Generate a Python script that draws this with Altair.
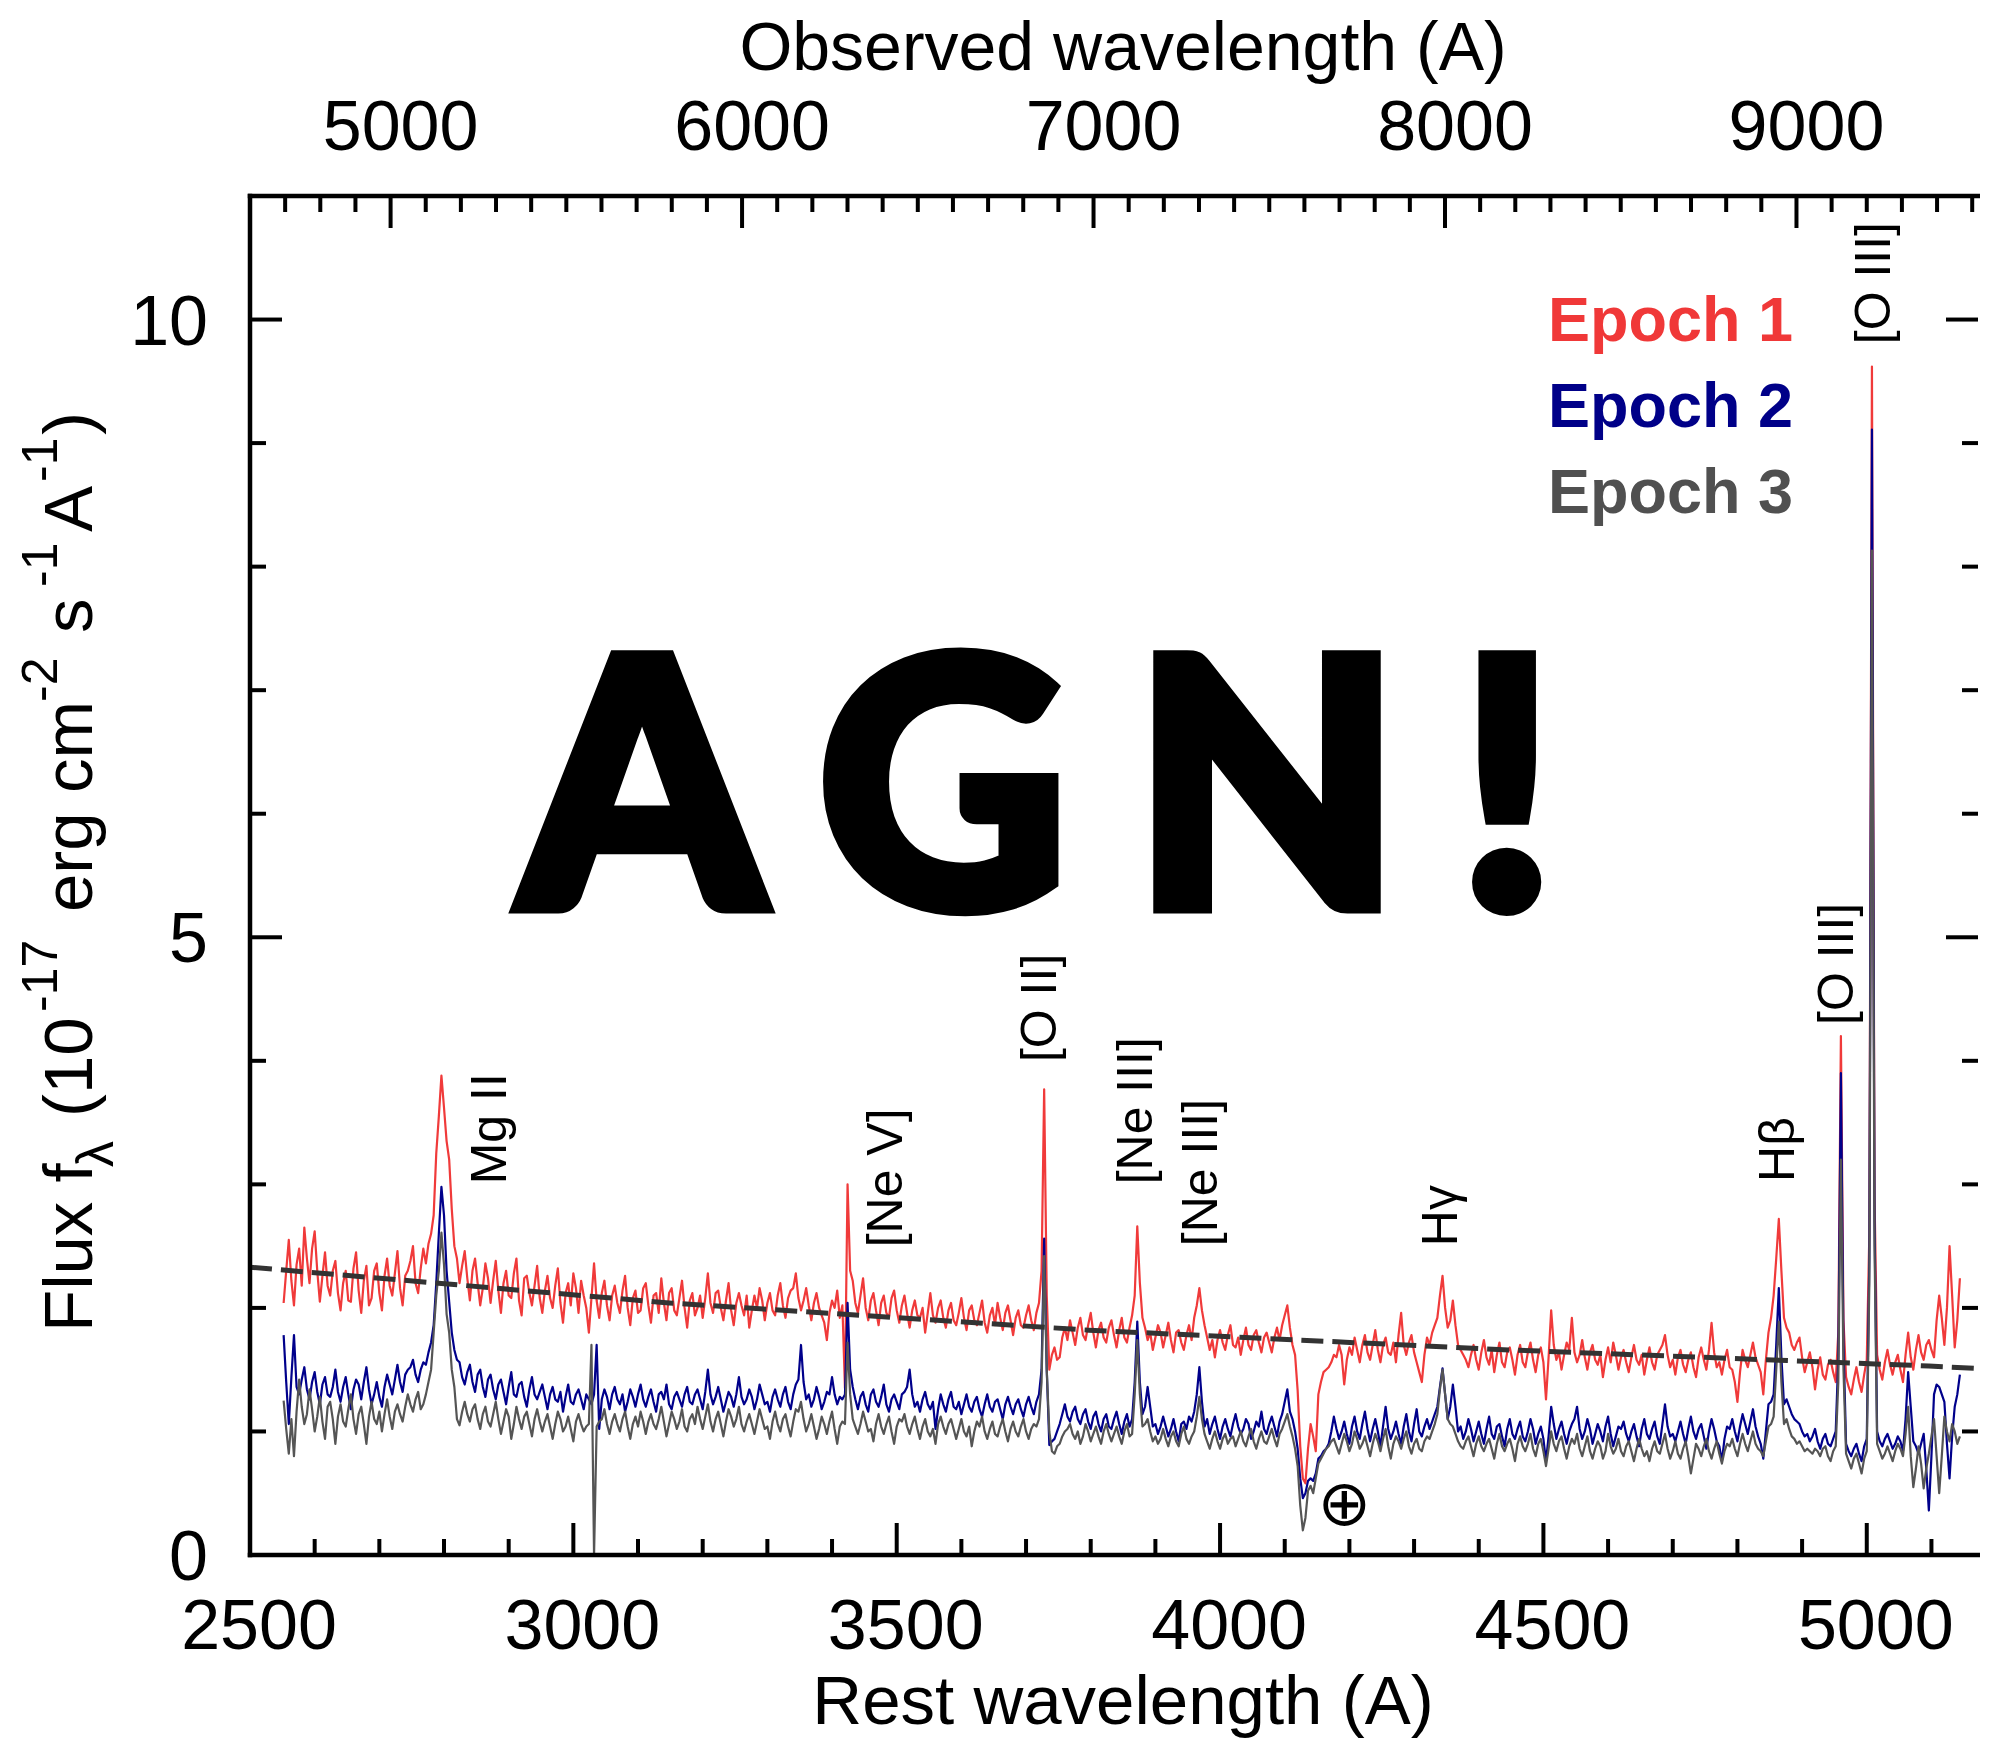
import altair as alt
import pandas as pd

# ---------------- data ----------------
ONE_PLUS_Z = 1.84          # observed / rest wavelength
X_MIN, X_MAX = 2500, 5172  # rest wavelength range shown
Y_MIN, Y_MAX = 0, 11
W, H = 1728, 1359

wave = list(range(2552, 5145, 4))  # rest wavelength sampling (A)

epoch1 = [
    2.04, 2.30, 2.55, 2.22, 2.02, 2.35, 2.48, 2.18, 2.65, 2.40, 2.20, 2.48, 2.62, 2.30, 2.05, 2.26, 2.45, 2.18, 2.10, 2.30,
    2.38, 2.12, 1.98, 2.20, 2.30, 2.06, 2.05, 2.32, 2.45, 2.14, 1.96, 2.22, 2.34, 2.02, 2.08, 2.30, 2.36, 2.12, 1.98, 2.26,
    2.40, 2.18, 2.10, 2.28, 2.46, 2.16, 2.02, 2.26, 2.30, 2.38, 2.50, 2.20, 2.12, 2.32, 2.48, 2.36, 2.52, 2.60, 2.75, 3.25,
    3.55, 3.88, 3.62, 3.35, 3.20, 2.80, 2.50, 2.40, 2.20, 2.34, 2.46, 2.24, 2.06, 2.30, 2.40, 2.20, 2.02, 2.16, 2.36, 2.24,
    2.04, 2.22, 2.38, 2.14, 1.96, 2.20, 2.30, 2.10, 2.08, 2.28, 2.40, 2.06, 1.94, 2.24, 2.26, 2.12, 2.02, 2.18, 2.34, 2.08,
    1.96, 2.14, 2.26, 2.08, 2.00, 2.18, 2.32, 2.04, 1.88, 2.12, 2.20, 2.02, 2.28, 2.16, 1.96, 2.22, 2.10, 2.00, 1.80, 2.08,
    2.36, 2.06, 1.92, 2.12, 2.22, 2.02, 1.90, 2.10, 2.18, 2.04, 1.96, 2.14, 2.26, 2.00, 1.86, 2.08, 2.14, 1.96, 1.98, 2.16,
    2.20, 2.02, 1.88, 2.10, 2.12, 1.96, 2.24, 2.04, 1.90, 2.12, 2.16, 1.98, 1.94, 2.08, 2.22, 2.00, 1.84, 2.06, 2.12, 1.94,
    2.00, 2.10, 1.92, 2.08, 2.28, 2.04, 1.96, 2.12, 2.14, 2.00, 1.90, 2.06, 2.20, 1.98, 1.86, 2.04, 2.12, 2.02, 1.94, 2.10,
    1.84, 1.98, 2.10, 2.00, 2.16, 2.06, 1.90, 2.04, 2.12, 1.98, 1.94, 2.10, 2.20, 2.02, 1.92, 2.08, 2.14, 2.16, 2.28, 2.08,
    1.98, 2.06, 2.16, 2.02, 1.90, 2.04, 2.12, 2.00, 1.94, 1.88, 1.74, 1.96, 2.06, 2.00, 2.14, 1.92, 2.02, 1.35, 3.00, 2.30,
    2.22, 2.04, 1.96, 2.10, 2.24, 2.00, 1.90, 2.06, 2.12, 1.98, 1.86, 2.04, 2.10, 1.96, 1.92, 2.08, 2.14, 1.98, 1.88, 2.02,
    2.10, 1.96, 1.84, 1.98, 2.06, 1.94, 1.92, 2.00, 1.80, 1.96, 2.12, 1.94, 1.88, 2.00, 2.06, 1.92, 1.84, 1.98, 2.04, 1.90,
    1.86, 1.96, 2.08, 1.92, 1.82, 1.98, 2.02, 1.90, 1.86, 1.96, 2.06, 1.88, 1.80, 1.94, 2.00, 1.86, 2.04, 1.92, 1.82, 1.96,
    2.02, 1.90, 1.78, 1.92, 1.98, 1.86, 1.84, 1.94, 2.02, 1.90, 1.82, 1.96, 2.04, 2.30, 3.77, 2.10, 1.50, 1.62, 1.68, 1.58,
    1.60, 1.76, 1.84, 1.74, 1.90, 1.80, 1.70, 1.84, 1.92, 1.78, 1.74, 1.86, 1.96, 1.80, 1.68, 1.82, 1.88, 1.76, 1.72, 1.84,
    1.90, 1.78, 1.68, 1.82, 1.92, 1.76, 1.72, 1.84, 1.94, 2.10, 2.66, 2.20, 1.92, 1.84, 1.74, 1.80, 1.66, 1.76, 1.86, 1.80,
    1.68, 1.78, 1.88, 1.74, 1.64, 1.80, 1.82, 1.72, 1.66, 1.78, 1.86, 1.74, 1.92, 2.02, 2.16, 1.98, 1.86, 1.76, 1.66, 1.74,
    1.60, 1.74, 1.82, 1.72, 1.66, 1.78, 1.86, 1.70, 1.68, 1.76, 1.62, 1.74, 1.84, 1.70, 1.66, 1.78, 1.82, 1.72, 1.64, 1.76,
    1.80, 1.72, 1.64, 1.76, 1.84, 1.74, 1.86, 1.94, 2.02, 1.84, 1.70, 1.62, 1.33, 0.88, 0.62, 0.58, 0.86, 1.06, 0.96, 0.84,
    1.30, 1.40, 1.48, 1.50, 1.52, 1.56, 1.62, 1.60, 1.70, 1.62, 1.38, 1.58, 1.68, 1.62, 1.76, 1.66, 1.56, 1.70, 1.78, 1.64,
    1.58, 1.70, 1.82, 1.66, 1.56, 1.70, 1.76, 1.64, 1.62, 1.72, 1.56, 1.78, 1.96, 1.70, 1.62, 1.72, 1.78, 1.64, 1.56, 1.48,
    1.40, 1.62, 1.76, 1.70, 1.80, 1.86, 1.92, 2.10, 2.26, 2.00, 1.84, 1.90, 2.06, 1.86, 1.70, 1.66, 1.62, 1.58, 1.52, 1.62,
    1.70, 1.58, 1.50, 1.64, 1.74, 1.60, 1.54, 1.66, 1.48, 1.62, 1.72, 1.56, 1.52, 1.64, 1.68, 1.58, 1.46, 1.62, 1.70, 1.56,
    1.52, 1.64, 1.72, 1.58, 1.48, 1.62, 1.68, 1.56, 1.26, 1.60, 1.98, 1.70, 1.58, 1.64, 1.50, 1.62, 1.72, 1.66, 1.92, 1.64,
    1.56, 1.62, 1.74, 1.60, 1.50, 1.64, 1.70, 1.58, 1.54, 1.62, 1.44, 1.58, 1.68, 1.56, 1.72, 1.62, 1.50, 1.60, 1.66, 1.56,
    1.48, 1.60, 1.70, 1.58, 1.54, 1.62, 1.46, 1.58, 1.68, 1.56, 1.50, 1.62, 1.66, 1.70, 1.78, 1.62, 1.52, 1.58, 1.46, 1.60,
    1.66, 1.54, 1.48, 1.58, 1.64, 1.52, 1.44, 1.60, 1.68, 1.58, 1.50, 1.66, 1.88, 1.64, 1.52, 1.56, 1.46, 1.58, 1.66, 1.52,
    1.50, 1.40, 1.24, 1.48, 1.66, 1.58, 1.52, 1.62, 1.72, 1.60, 1.54, 1.48, 1.30, 1.58, 1.80, 1.92, 2.10, 2.40, 2.72, 2.30,
    1.92, 1.84, 1.80, 1.70, 1.66, 1.72, 1.76, 1.60, 1.48, 1.56, 1.64, 1.52, 1.34, 1.50, 1.60, 1.46, 1.42, 1.54, 1.58, 1.48,
    1.40, 1.80, 4.20, 1.90, 1.44, 1.36, 1.30, 1.42, 1.52, 1.40, 1.32, 1.46, 1.58, 2.60, 9.62, 2.90, 1.62, 1.50, 1.42, 1.56,
    1.66, 1.54, 1.46, 1.56, 1.62, 1.50, 1.40, 1.62, 1.80, 1.60, 1.50, 1.66, 1.78, 1.64, 1.58, 1.70, 1.74, 1.66, 1.60, 1.90,
    2.10, 1.92, 1.70, 2.00, 2.50, 2.10, 1.68, 1.90, 2.24,
]

epoch2 = [
    1.78, 1.40, 1.06, 1.44, 1.78, 1.36, 1.30, 1.42, 1.52, 1.34, 1.26, 1.40, 1.48, 1.32, 1.22, 1.38, 1.44, 1.30, 1.28, 1.36,
    1.50, 1.32, 1.24, 1.36, 1.44, 1.30, 1.18, 1.34, 1.42, 1.38, 1.26, 1.40, 1.52, 1.34, 1.22, 1.30, 1.40, 1.28, 1.20, 1.36,
    1.46, 1.38, 1.30, 1.42, 1.54, 1.40, 1.32, 1.46, 1.50, 1.52, 1.58, 1.46, 1.40, 1.50, 1.56, 1.54, 1.64, 1.72, 1.86, 2.20,
    2.60, 2.98, 2.75, 2.30, 2.05, 1.80, 1.66, 1.58, 1.56, 1.44, 1.38, 1.48, 1.54, 1.40, 1.32, 1.46, 1.50, 1.36, 1.28, 1.42,
    1.46, 1.34, 1.26, 1.38, 1.42, 1.32, 1.22, 1.36, 1.48, 1.30, 1.28, 1.38, 1.40, 1.28, 1.20, 1.34, 1.44, 1.30, 1.26, 1.32,
    1.38, 1.28, 1.18, 1.30, 1.36, 1.26, 1.24, 1.32, 1.16, 1.28, 1.38, 1.24, 1.22, 1.30, 1.34, 1.26, 1.18, 1.30, 1.26, 1.22,
    1.30, 1.70, 1.02, 1.26, 1.34, 1.28, 1.18, 1.30, 1.36, 1.26, 1.22, 1.30, 1.16, 1.24, 1.34, 1.28, 1.20, 1.30, 1.38, 1.26,
    1.20, 1.28, 1.34, 1.24, 1.16, 1.30, 1.32, 1.26, 1.38, 1.22, 1.18, 1.28, 1.32, 1.26, 1.20, 1.30, 1.36, 1.24, 1.22, 1.30,
    1.34, 1.26, 1.18, 1.32, 1.50, 1.30, 1.22, 1.28, 1.36, 1.26, 1.16, 1.24, 1.32, 1.28, 1.20, 1.30, 1.44, 1.28, 1.22, 1.26,
    1.34, 1.28, 1.18, 1.26, 1.38, 1.30, 1.22, 1.24, 1.16, 1.28, 1.34, 1.26, 1.20, 1.30, 1.36, 1.24, 1.18, 1.30, 1.38, 1.42,
    1.70, 1.40, 1.26, 1.30, 1.20, 1.26, 1.36, 1.28, 1.18, 1.24, 1.32, 1.30, 1.44, 1.30, 1.22, 1.28, 1.26, 1.30, 2.04, 1.50,
    1.36, 1.26, 1.18, 1.28, 1.32, 1.22, 1.16, 1.30, 1.34, 1.24, 1.20, 1.28, 1.38, 1.22, 1.16, 1.26, 1.30, 1.24, 1.18, 1.30,
    1.32, 1.36, 1.50, 1.30, 1.20, 1.24, 1.16, 1.26, 1.32, 1.22, 1.18, 1.24, 1.02, 1.18, 1.30, 1.22, 1.16, 1.26, 1.32, 1.20,
    1.18, 1.24, 1.14, 1.22, 1.30, 1.20, 1.16, 1.24, 1.28, 1.18, 1.12, 1.22, 1.30, 1.20, 1.16, 1.24, 1.26, 1.18, 1.10, 1.22,
    1.28, 1.20, 1.14, 1.22, 1.26, 1.18, 1.12, 1.22, 1.28, 1.20, 1.14, 1.24, 1.30, 1.50, 2.56, 1.50, 0.89, 0.92, 0.94, 1.00,
    1.06, 1.14, 1.22, 1.12, 1.08, 1.16, 1.20, 1.10, 1.06, 1.14, 1.18, 1.08, 1.02, 1.12, 1.16, 1.06, 1.00, 1.10, 1.14, 1.04,
    1.02, 1.10, 1.16, 1.06, 0.98, 1.08, 1.14, 1.04, 1.10, 1.40, 1.89, 1.40, 1.14, 1.20, 1.36, 1.20, 1.04, 1.06, 0.98, 1.04,
    1.12, 1.04, 0.96, 1.02, 1.10, 1.00, 0.92, 1.06, 1.08, 1.02, 1.12, 1.08, 1.16, 1.30, 1.52, 1.24, 1.04, 1.10, 0.98, 1.06,
    1.12, 1.02, 0.94, 1.04, 1.10, 1.02, 0.96, 1.06, 1.14, 1.04, 0.98, 1.02, 1.10, 1.06, 0.94, 1.00, 1.08, 1.04, 1.16, 1.02,
    0.98, 1.06, 1.12, 1.04, 0.96, 1.08, 1.14, 1.24, 1.34, 1.16, 1.10, 1.00, 0.86, 0.62, 0.46, 0.50, 0.60, 0.62, 0.60, 0.66,
    0.78, 0.80, 0.84, 0.86, 0.90, 1.00, 1.12, 1.02, 0.94, 1.00, 1.08, 0.98, 0.90, 1.04, 1.12, 1.00, 0.94, 1.06, 1.16, 1.02,
    0.92, 1.02, 1.10, 1.00, 0.88, 1.04, 1.20, 1.02, 0.94, 1.00, 1.08, 0.98, 0.90, 1.04, 1.14, 1.00, 0.92, 1.06, 1.18, 1.00,
    0.96, 1.04, 1.10, 1.02, 1.08, 1.14, 1.20, 1.36, 1.51, 1.30, 1.10, 1.20, 1.38, 1.20, 1.00, 1.04, 0.94, 1.00, 1.10, 1.02,
    0.92, 1.00, 1.08, 0.98, 0.90, 1.02, 1.12, 0.98, 0.94, 1.04, 1.06, 0.96, 0.88, 1.02, 1.10, 0.98, 0.94, 1.02, 1.08, 0.96,
    0.92, 1.00, 1.10, 1.02, 0.90, 0.98, 1.04, 0.94, 0.76, 0.96, 1.20, 1.06, 0.94, 1.02, 1.08, 0.98, 0.90, 1.00, 1.06, 1.10,
    1.20, 1.02, 0.94, 1.00, 1.10, 1.02, 0.90, 0.98, 1.06, 1.00, 0.92, 1.04, 1.12, 0.98, 0.88, 0.96, 1.04, 1.02, 1.08, 0.98,
    0.92, 1.00, 1.06, 0.96, 0.88, 1.02, 1.10, 0.98, 0.94, 1.02, 1.08, 0.96, 0.90, 1.06, 1.22, 1.04, 0.96, 0.98, 0.92, 1.00,
    1.08, 0.98, 0.90, 1.02, 1.12, 1.00, 0.94, 1.02, 1.06, 0.96, 0.86, 1.00, 1.10, 1.02, 0.92, 0.88, 0.76, 0.94, 1.04, 1.02,
    1.10, 1.00, 0.92, 1.04, 1.14, 1.06, 0.98, 1.08, 1.18, 1.04, 0.96, 0.90, 0.78, 1.00, 1.22, 1.24, 1.30, 1.70, 2.16, 1.60,
    1.22, 1.26, 1.20, 1.14, 1.10, 1.08, 1.06, 1.00, 0.96, 0.98, 0.92, 0.96, 1.02, 0.92, 0.86, 0.94, 0.98, 0.90, 0.88, 0.94,
    1.00, 1.60, 3.90, 1.70, 0.90, 0.84, 0.80, 0.86, 0.90, 0.82, 0.76, 0.88, 0.94, 2.40, 9.11, 2.70, 1.00, 0.92, 0.88, 0.94,
    0.98, 0.92, 0.86, 0.90, 0.96, 0.92, 0.84, 1.10, 1.48, 1.20, 0.92, 0.88, 0.82, 0.90, 0.98, 0.70, 0.36, 0.80, 1.30, 1.38,
    1.36, 1.30, 1.24, 0.90, 0.62, 0.96, 1.20, 1.30, 1.46,
]

epoch3 = [
    1.25, 1.02, 0.82, 1.10, 0.80, 1.16, 1.42, 1.20, 1.06, 1.14, 1.34, 1.18, 1.00, 1.12, 1.28, 1.08, 0.94, 1.20, 1.24, 1.10,
    0.90, 1.12, 1.22, 1.08, 1.04, 1.18, 1.30, 1.10, 0.98, 1.14, 1.20, 1.06, 0.90, 1.12, 1.24, 1.10, 1.06, 1.16, 1.00, 1.14,
    1.26, 1.12, 1.02, 1.16, 1.22, 1.14, 1.08, 1.20, 1.30, 1.22, 1.16, 1.26, 1.32, 1.18, 1.22, 1.30, 1.40, 1.50, 1.80, 2.10,
    2.30, 2.61, 2.35, 1.95, 1.80, 1.50, 1.36, 1.10, 1.05, 1.16, 1.24, 1.14, 1.08, 1.18, 1.22, 1.10, 1.02, 1.14, 1.20, 1.08,
    1.04, 1.14, 1.24, 1.10, 0.98, 1.08, 1.18, 1.12, 0.94, 1.06, 1.20, 1.10, 1.02, 1.12, 1.16, 1.06, 0.96, 1.10, 1.18, 1.08,
    1.00, 1.08, 1.14, 1.04, 0.94, 1.06, 1.16, 1.10, 1.00, 1.04, 1.12, 1.02, 0.92, 1.08, 1.14, 1.06, 1.00, 1.04, 1.06, 1.70,
    0.00, 1.04, 1.08, 1.10, 1.18, 1.06, 0.98, 1.08, 1.14, 1.06, 1.00, 1.10, 1.16, 1.04, 0.94, 1.06, 1.12, 1.04, 1.16, 1.08,
    0.98, 1.08, 1.14, 1.06, 1.02, 1.10, 1.20, 1.08, 0.96, 1.06, 1.16, 1.10, 1.02, 1.08, 1.18, 1.04, 1.00, 1.10, 1.14, 1.06,
    1.20, 1.10, 1.02, 1.12, 1.22, 1.08, 1.00, 1.10, 1.16, 1.06, 0.96, 1.08, 1.18, 1.12, 1.04, 1.10, 1.20, 1.06, 1.00, 1.08,
    1.14, 1.06, 0.98, 1.08, 1.18, 1.10, 1.02, 1.04, 0.94, 1.08, 1.16, 1.06, 1.00, 1.10, 1.14, 1.04, 0.96, 1.08, 1.18, 1.16,
    1.24, 1.10, 1.00, 1.06, 1.14, 1.04, 0.94, 1.02, 1.12, 1.06, 0.98, 1.08, 1.16, 1.02, 0.90, 1.04, 1.08, 1.06, 1.72, 1.30,
    1.10, 1.04, 0.98, 1.06, 1.16, 1.08, 1.00, 1.02, 0.92, 1.06, 1.14, 1.04, 0.98, 1.06, 1.12, 1.00, 0.90, 1.04, 1.10, 1.08,
    1.14, 1.04, 0.98, 1.06, 1.12, 1.02, 0.94, 1.04, 1.10, 1.00, 0.96, 1.02, 0.90, 1.06, 1.12, 1.04, 0.98, 1.06, 1.10, 1.02,
    0.94, 1.02, 1.10, 1.00, 0.96, 1.04, 0.88, 1.00, 1.08, 1.04, 1.12, 1.00, 0.94, 1.02, 1.08, 0.98, 0.96, 1.04, 1.10, 1.00,
    0.92, 1.02, 1.08, 1.00, 0.96, 1.04, 1.10, 1.00, 0.94, 1.02, 1.06, 1.04, 1.10, 1.40, 2.42, 1.50, 1.00, 0.84, 0.82, 0.88,
    0.90, 0.96, 1.00, 1.02, 1.06, 0.98, 0.94, 1.00, 0.90, 0.96, 1.06, 1.00, 0.92, 0.98, 1.04, 0.96, 0.90, 1.00, 1.06, 0.98,
    0.92, 0.98, 1.04, 0.96, 0.90, 1.00, 1.06, 0.96, 0.98, 1.30, 1.74, 1.30, 1.04, 1.06, 1.10, 1.00, 0.92, 0.96, 0.90, 0.94,
    1.02, 0.94, 0.88, 0.96, 1.00, 0.92, 0.88, 0.98, 1.04, 0.94, 0.90, 0.96, 1.00, 1.12, 1.28, 1.10, 0.98, 0.92, 0.86, 0.94,
    1.00, 0.92, 0.86, 0.94, 0.98, 0.90, 0.94, 0.96, 0.88, 0.94, 1.00, 0.92, 0.88, 0.96, 1.02, 0.92, 0.86, 0.94, 1.00, 0.92,
    0.90, 0.96, 1.02, 0.94, 0.88, 0.98, 1.02, 1.08, 1.14, 1.04, 0.96, 0.86, 0.72, 0.40, 0.20, 0.30, 0.52, 0.56, 0.50, 0.62,
    0.74, 0.78, 0.82, 0.86, 0.88, 0.92, 0.94, 0.88, 0.82, 0.90, 0.98, 0.92, 0.84, 0.90, 1.00, 0.94, 0.86, 0.90, 0.96, 0.88,
    0.80, 0.90, 0.98, 0.92, 0.84, 0.94, 1.02, 0.88, 0.78, 0.90, 0.96, 0.92, 0.86, 0.94, 1.00, 0.88, 0.82, 0.90, 0.94, 0.86,
    0.84, 0.92, 0.96, 0.94, 1.00, 1.06, 1.14, 1.34, 1.50, 1.30, 1.10, 1.06, 1.04, 0.98, 0.92, 0.88, 0.86, 0.92, 0.96, 0.88,
    0.80, 0.90, 0.96, 0.88, 0.84, 0.90, 0.94, 0.86, 0.78, 0.90, 0.98, 0.88, 0.84, 0.90, 0.94, 0.86, 0.76, 0.90, 0.96, 0.88,
    0.84, 0.90, 0.98, 0.86, 0.80, 0.90, 0.94, 0.84, 0.72, 0.86, 1.00, 0.90, 0.84, 0.92, 0.96, 0.86, 0.78, 0.88, 0.94, 0.90,
    0.98, 0.86, 0.80, 0.88, 0.96, 0.84, 0.78, 0.86, 0.92, 0.88, 0.78, 0.84, 0.98, 0.88, 0.82, 0.86, 0.94, 0.84, 0.80, 0.88,
    0.92, 0.84, 0.76, 0.86, 0.94, 0.86, 0.80, 0.84, 0.76, 0.86, 0.92, 0.84, 0.82, 0.90, 0.98, 0.86, 0.78, 0.84, 0.92, 0.82,
    0.78, 0.86, 0.92, 0.80, 0.66, 0.78, 0.90, 0.86, 0.80, 0.88, 0.94, 0.84, 0.78, 0.86, 0.92, 0.82, 0.74, 0.84, 0.90, 0.88,
    0.94, 0.86, 0.80, 0.90, 0.98, 0.90, 0.84, 0.92, 1.00, 0.90, 0.86, 0.84, 0.80, 0.92, 1.04, 1.06, 1.12, 1.50, 1.89, 1.40,
    1.06, 1.10, 1.02, 0.96, 0.94, 0.90, 0.92, 0.88, 0.84, 0.86, 0.84, 0.82, 0.86, 0.84, 0.80, 0.86, 0.88, 0.80, 0.76, 0.84,
    0.88, 1.40, 3.20, 1.50, 0.82, 0.76, 0.70, 0.78, 0.82, 0.74, 0.66, 0.78, 0.84, 2.20, 8.13, 2.50, 0.90, 0.84, 0.78, 0.82,
    0.88, 0.82, 0.76, 0.84, 0.90, 0.86, 0.80, 0.98, 1.20, 0.80, 0.55, 0.70, 0.88, 0.74, 0.54, 0.70, 0.82, 0.96, 1.10, 0.80,
    0.50, 0.80, 1.12, 1.00, 0.92, 1.06, 1.00, 0.90, 0.96,
]

cont_wave = [2500, 3148, 3797, 4447, 5096, 5172]
cont_flux = [2.33, 2.04, 1.82, 1.66, 1.53, 1.51]

line_names = ["Mg II", "[Ne V]", "[O II]", "[Ne III]", "[Ne III]", "Hγ", "Hβ", "[O III]", "[O III]"]
line_wave = [2896, 3508, 3746, 3895, 3995, 4366, 4888, 4979, 5036]
line_flux = [3.00, 2.49, 3.99, 3.00, 2.50, 2.50, 3.02, 4.29, 9.80]

earth_wave, earth_flux = [4192], [0.40]

epoch_names = ["Epoch 1", "Epoch 2", "Epoch 3"]
epoch_colors = ["#f03838", "#000088", "#505050"]
line_colors = ["#f03a3a", "#00008b", "#555555"]

rest_labels = [2500, 3000, 3500, 4000, 4500, 5000]
rest_major = [3000, 3500, 4000, 4500, 5000]
rest_minor = [v for v in range(2600, 5101, 100) if v % 500]
obs_labels = [5000, 6000, 7000, 8000, 9000]
obs_minor = [v for v in range(4700, 9600, 100) if v % 1000]
flux_labels = [0, 5, 10]
flux_major = [5, 10]
flux_minor = [1, 2, 3, 4, 6, 7, 8, 9]

# ---------------- chart ----------------
FONT = "Liberation Sans, Arial, Helvetica, sans-serif"
xs = alt.Scale(domain=[X_MIN, X_MAX], nice=False, zero=False)
ys = alt.Scale(domain=[Y_MIN, Y_MAX], nice=False, zero=False)
one = pd.DataFrame({"k": [0]})

n = min(len(wave), len(epoch1), len(epoch2), len(epoch3))
layers = []

for flux, col in zip([epoch1, epoch2, epoch3], line_colors):
    df = pd.DataFrame({"wave": wave[:n], "flux": flux[:n]})
    layers.append(
        alt.Chart(df).mark_line(color=col, strokeWidth=2.2, clip=True, strokeJoin="round")
        .encode(x=alt.X("wave:Q", scale=xs, axis=None), y=alt.Y("flux:Q", scale=ys, axis=None))
    )

layers.append(
    alt.Chart(pd.DataFrame({"wave": cont_wave, "flux": cont_flux}))
    .mark_line(color="#333333", strokeWidth=5, strokeDash=[22, 9], clip=True)
    .encode(x=alt.X("wave:Q", scale=xs, axis=None), y=alt.Y("flux:Q", scale=ys, axis=None))
)

# line identifications
layers.append(
    alt.Chart(pd.DataFrame({"wave": line_wave, "flux": line_flux, "name": line_names}))
    .mark_text(angle=270, align="left", baseline="alphabetic", font=FONT, fontSize=50, color="black")
    .encode(x=alt.X("wave:Q", scale=xs, axis=None), y=alt.Y("flux:Q", scale=ys, axis=None), text="name:N")
)
layers.append(
    alt.Chart(pd.DataFrame({"wave": earth_wave, "flux": earth_flux}))
    .mark_text(text="⊕", align="center", baseline="middle", font="DejaVu Sans", fontSize=64, color="black")
    .encode(x=alt.X("wave:Q", scale=xs, axis=None), y=alt.Y("flux:Q", scale=ys, axis=None))
)

# frame
for enc in [
    dict(x=alt.value(0), x2=alt.value(W), y=alt.value(0)),
    dict(x=alt.value(0), x2=alt.value(W), y=alt.value(H)),
    dict(x=alt.value(0), y=alt.value(0), y2=alt.value(H)),
]:
    layers.append(alt.Chart(one).mark_rule(color="black", strokeWidth=4.5, strokeCap="square").encode(**enc))

# ticks (inward)
def xticks(vals, y0, y1):
    return (alt.Chart(pd.DataFrame({"w": vals})).mark_rule(color="black", strokeWidth=4)
            .encode(x=alt.X("w:Q", scale=xs, axis=None), y=alt.value(y0), y2=alt.value(y1)))

def yticks(vals, x0, x1):
    return (alt.Chart(pd.DataFrame({"f": vals})).mark_rule(color="black", strokeWidth=4)
            .encode(y=alt.Y("f:Q", scale=ys, axis=None), x=alt.value(x0), x2=alt.value(x1)))

layers += [
    xticks(rest_minor, H, H - 16),
    xticks(rest_major, H, H - 32),
    xticks([o / ONE_PLUS_Z for o in obs_minor], 0, 16),
    xticks([o / ONE_PLUS_Z for o in obs_labels], 0, 32),
    yticks(flux_minor, 0, 16),
    yticks(flux_major, 0, 32),
    yticks(flux_minor, W, W - 16),
    yticks(flux_major, W, W - 32),
]

# tick labels
layers.append(
    alt.Chart(pd.DataFrame({"w": rest_labels}))
    .mark_text(font=FONT, fontSize=70, align="center", baseline="alphabetic", dx=9, color="black")
    .encode(x=alt.X("w:Q", scale=xs, axis=None), y=alt.value(1453), text=alt.Text("w:Q", format="d"))
)
layers.append(
    alt.Chart(pd.DataFrame({"w": [o / ONE_PLUS_Z for o in obs_labels], "lab": [str(o) for o in obs_labels]}))
    .mark_text(font=FONT, fontSize=70, align="center", baseline="alphabetic", dx=10, color="black")
    .encode(x=alt.X("w:Q", scale=xs, axis=None), y=alt.value(-46), text="lab:N")
)
layers.append(
    alt.Chart(pd.DataFrame({"f": flux_labels}))
    .mark_text(font=FONT, fontSize=70, align="right", baseline="middle", dy=4, color="black")
    .encode(y=alt.Y("f:Q", scale=ys, axis=None), x=alt.value(-42), text=alt.Text("f:Q", format="d"))
)

# text helper
def label(txt, x, y, size, angle=0, align="center", font=FONT, weight="normal", color="black", **extra):
    kw = dict(text=txt, align=align, baseline="alphabetic", font=font, fontSize=size,
              fontWeight=weight, color=color)
    if angle:
        kw["angle"] = angle
    kw.update(extra)
    return alt.Chart(one).mark_text(**kw).encode(x=alt.value(x), y=alt.value(y))

layers.append(label("Rest wavelength (A)", 873, 1528, 69))
layers.append(label("Observed wavelength (A)", 873, -126, 68))

# y title with sub/superscripts: (text, baseline x, start y, size)
ytitle = [
    ("Flux f", -158, 1136, 69),
    ("λ", -137, 971, 52),
    ("(10", -158, 921, 69),
    ("-17", -193, 816, 50),
    ("erg cm", -158, 716, 69),
    ("-2", -193, 506, 50),
    ("s", -158, 437, 69),
    ("-1", -193, 391, 50),
    ("A", -158, 336, 69),
    ("-1", -193, 286, 50),
    (")", -158, 239, 69),
]
for txt, x, y, s in ytitle:
    layers.append(label(txt, x, y, s, angle=270, align="left"))

# legend
for name, col, y in zip(epoch_names, epoch_colors, [145, 231, 317]):
    layers.append(label(name, 1298, y, 63, align="left", weight="bold", color=col))

# big AGN! annotation
for ch, x in zip(["A", "G", "N", "!"], [392, 693, 1017, 1257]):
    layers.append(label(ch, x, 711, 345, font="Lato, Roboto, sans-serif", weight=900,
                        stroke="black", strokeWidth=13, strokeJoin="miter", strokeMiterLimit=2))

chart = (
    alt.layer(*layers)
    .properties(
        width=W, height=H,
        padding={"left": 242, "top": 188, "right": 2, "bottom": 184},
        autosize=alt.AutoSizeParams(type="none"),
        background="white",
    )
    .configure_view(strokeWidth=0)
)

chart.save("out.html", embed_options={"renderer": "svg", "actions": False})
